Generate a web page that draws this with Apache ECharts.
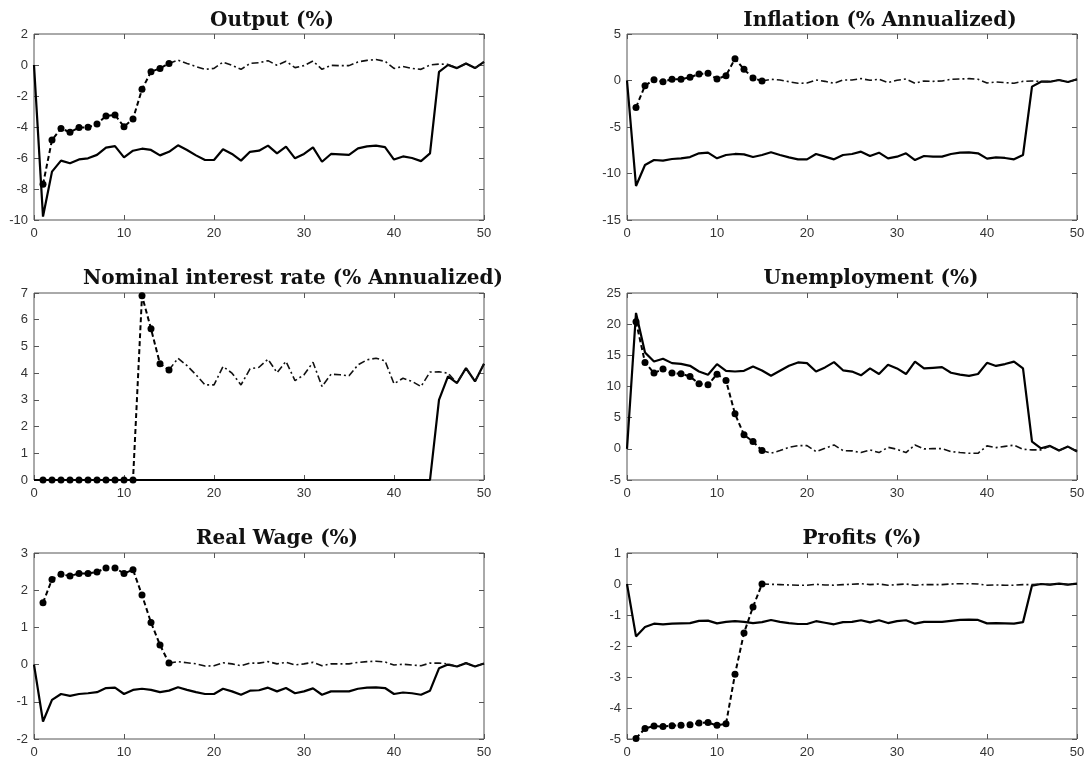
<!DOCTYPE html>
<html><head><meta charset="utf-8">
<script src="https://cdn.jsdelivr.net/npm/echarts@6/dist/echarts.min.js"></script>
<style>html,body{margin:0;padding:0;background:#fff}#c{width:1088px;height:762px}</style>
</head><body><div id="c"></div>
<script>
// ---------- DATA ----------
const periods = [0,1,2,3,4,5,6,7,8,9,10,11,12,13,14,15,16,17,18,19,20,21,22,23,24,25,26,27,28,29,30,31,32,33,34,35,36,37,38,39,40,41,42,43,44,45,46,47,48,49,50];
const xTicks = [0,10,20,30,40,50];
const titles = ['Output (%)','Inflation (% Annualized)','Nominal interest rate (% Annualized)','Unemployment (%)','Real Wage (%)','Profits (%)'];

// solid line: x = 0..50 ; alternative (dashed, markers on 1..15): x = 1..50
const outputSolid = [0,-9.78,-6.88,-6.17,-6.34,-6.09,-6.02,-5.8,-5.33,-5.23,-5.96,-5.53,-5.4,-5.48,-5.83,-5.6,-5.18,-5.48,-5.83,-6.13,-6.13,-5.44,-5.74,-6.17,-5.6,-5.53,-5.2,-5.7,-5.27,-6.02,-5.74,-5.31,-6.24,-5.74,-5.76,-5.8,-5.38,-5.25,-5.2,-5.3,-6.1,-5.9,-6.0,-6.2,-5.7,-0.45,0.0,-0.2,0.1,-0.2,0.2];
const outputAlt = [-7.7,-4.84,-4.09,-4.34,-4.04,-4.02,-3.8,-3.29,-3.23,-3.98,-3.48,-1.57,-0.43,-0.22,0.1,0.32,0.1,-0.1,-0.28,-0.22,0.19,-0.02,-0.28,0.1,0.15,0.28,-0.02,0.24,-0.17,-0.04,0.26,-0.28,-0.02,-0.04,-0.04,0.2,0.3,0.35,0.24,-0.22,-0.1,-0.22,-0.28,0.0,0.06,0.04,-0.2,0.1,-0.2,0.2];

const inflationSolid = [0,-11.34,-9.09,-8.55,-8.62,-8.44,-8.37,-8.23,-7.83,-7.76,-8.37,-8.01,-7.9,-7.94,-8.23,-8.01,-7.72,-8.01,-8.26,-8.48,-8.48,-7.9,-8.19,-8.48,-8.01,-7.9,-7.65,-8.12,-7.76,-8.37,-8.19,-7.83,-8.55,-8.12,-8.19,-8.19,-7.9,-7.76,-7.72,-7.83,-8.4,-8.26,-8.33,-8.48,-8.01,-0.66,-0.13,-0.13,0.05,-0.16,0.13];
const inflationAlt = [-2.89,-0.56,0.09,-0.13,0.13,0.13,0.34,0.7,0.77,0.16,0.52,2.35,1.2,0.27,-0.05,0.13,0.05,-0.13,-0.3,-0.27,0.05,-0.09,-0.3,0.05,0.05,0.2,0.02,0.13,-0.23,0.02,0.16,-0.3,-0.05,-0.09,-0.05,0.13,0.16,0.2,0.13,-0.27,-0.16,-0.23,-0.3,-0.09,-0.05,-0.1,-0.13,0.05,-0.16,0.13];

const rateSolid = [0,0,0,0,0,0,0,0,0,0,0,0,0,0,0,0,0,0,0,0,0,0,0,0,0,0,0,0,0,0,0,0,0,0,0,0,0,0,0,0,0,0,0,0,0,3.0,3.88,3.63,4.19,3.69,4.35];
const rateAlt = [0,0,0,0,0,0,0,0,0,0,0,6.9,5.66,4.35,4.12,4.56,4.28,3.94,3.56,3.56,4.25,4.0,3.56,4.16,4.22,4.52,4.02,4.44,3.72,3.94,4.41,3.5,3.96,3.94,3.9,4.31,4.5,4.56,4.46,3.6,3.81,3.69,3.5,4.04,4.05,4.0,3.63,4.19,3.69,4.35];

const unempSolid = [0,21.8,15.47,14.0,14.45,13.75,13.64,13.32,12.41,11.88,13.59,12.52,12.41,12.52,13.2,12.57,11.72,12.52,13.32,13.86,13.75,12.41,13.06,13.91,12.6,12.4,11.8,12.9,12.0,13.5,12.9,12.0,14.0,12.9,13.0,13.1,12.2,11.9,11.7,12.0,13.8,13.3,13.6,14.0,12.9,1.16,0.09,0.47,-0.28,0.36,-0.44];
const unempAlt = [20.4,13.86,12.15,12.79,12.15,12.04,11.6,10.43,10.27,11.98,10.97,5.61,2.24,1.16,-0.28,-0.71,-0.28,0.25,0.52,0.52,-0.44,0.09,0.63,-0.28,-0.33,-0.6,-0.17,-0.6,0.25,-0.07,-0.6,0.63,-0.01,0.04,0.04,-0.44,-0.6,-0.71,-0.71,0.47,0.2,0.4,0.58,-0.07,-0.17,-0.17,0.47,-0.28,0.36,-0.44];

const wageSolid = [0,-1.53,-0.95,-0.79,-0.84,-0.79,-0.77,-0.74,-0.63,-0.62,-0.79,-0.68,-0.65,-0.68,-0.74,-0.7,-0.61,-0.68,-0.74,-0.79,-0.79,-0.65,-0.72,-0.81,-0.7,-0.69,-0.62,-0.72,-0.63,-0.77,-0.72,-0.64,-0.81,-0.72,-0.72,-0.72,-0.65,-0.62,-0.61,-0.63,-0.79,-0.75,-0.77,-0.81,-0.7,-0.1,0.0,-0.05,0.04,-0.05,0.03];
const wageAlt = [1.66,2.29,2.43,2.38,2.45,2.45,2.49,2.6,2.6,2.45,2.55,1.87,1.13,0.53,0.04,0.08,0.05,0.02,-0.04,-0.03,0.05,0.02,-0.03,0.04,0.04,0.08,0.02,0.06,-0.01,0.02,0.06,-0.03,0.02,0.02,0.02,0.06,0.08,0.09,0.07,-0.01,0.01,-0.01,-0.03,0.04,0.04,0.02,-0.05,0.04,-0.05,0.03];

const profitSolid = [0,-1.69,-1.39,-1.28,-1.3,-1.28,-1.27,-1.26,-1.19,-1.18,-1.27,-1.22,-1.2,-1.22,-1.26,-1.23,-1.16,-1.22,-1.26,-1.29,-1.29,-1.2,-1.25,-1.3,-1.23,-1.22,-1.17,-1.24,-1.17,-1.26,-1.2,-1.17,-1.28,-1.22,-1.22,-1.22,-1.19,-1.16,-1.15,-1.16,-1.27,-1.26,-1.27,-1.28,-1.23,-0.05,0.0,-0.02,0.01,-0.02,0.01];
const profitAlt = [-4.98,-4.66,-4.58,-4.6,-4.57,-4.56,-4.54,-4.48,-4.47,-4.56,-4.51,-2.91,-1.58,-0.74,0.0,-0.01,-0.02,-0.03,-0.04,-0.04,-0.01,-0.03,-0.04,-0.02,-0.01,0.01,-0.02,0.0,-0.04,-0.02,0.0,-0.04,-0.02,-0.02,-0.02,0.0,0.01,0.01,0.0,-0.04,-0.03,-0.04,-0.04,-0.02,-0.02,0.0,-0.02,0.01,-0.02,0.01];

const yRanges = [[-10,2,2],[-15,5,5],[0,7,1],[-5,25,5],[-2,3,1],[-5,1,1]];
const markerEnd = 15; // markers drawn on periods 1..15

// ---------- LAYOUT ----------
const solids = [outputSolid, inflationSolid, rateSolid, unempSolid, wageSolid, profitSolid];
const alts = [outputAlt, inflationAlt, rateAlt, unempAlt, wageAlt, profitAlt];
const gridPos = [
  {left:34, top:34, w:450, h:186}, {left:627, top:34, w:450, h:186},
  {left:34, top:293, w:450, h:187}, {left:627, top:293, w:450, h:187},
  {left:34, top:553, w:450, h:186}, {left:627, top:553, w:450, h:186}
];
const titleCenters = [272, 880, 293, 871, 277, 862];
const titleTops = [10, 10, 268, 268, 528, 528];

const frame = '#555';
const grids = [], xAxes = [], yAxes = [], series = [], titleArr = [];
for (let p = 0; p < 6; p++) {
  const g = gridPos[p];
  grids.push({left:g.left, top:g.top, width:g.w, height:g.h, show:true, borderColor:frame, borderWidth:1, backgroundColor:'#fff', containLabel:false});
  const tickStyle = {show:true, inside:true, length:5, lineStyle:{color:frame, width:1}};
  const xBase = {type:'value', gridIndex:p, min:xTicks[0], max:xTicks[xTicks.length-1], interval:10,
    axisLine:{show:false, onZero:false}, splitLine:{show:false}, axisTick:tickStyle};
  xAxes.push(Object.assign({}, xBase, {position:'bottom',
    axisLabel:{show:true, margin:7, color:'#333', fontFamily:'Liberation Sans, Arial, sans-serif', fontSize:13}}));
  xAxes.push(Object.assign({}, xBase, {position:'top', axisLabel:{show:false}}));
  const [ymin, ymax, yint] = yRanges[p];
  const yBase = {type:'value', gridIndex:p, min:ymin, max:ymax, interval:yint,
    axisLine:{show:false, onZero:false}, splitLine:{show:false}, axisTick:tickStyle};
  yAxes.push(Object.assign({}, yBase, {position:'left',
    axisLabel:{show:true, margin:6, color:'#333', fontFamily:'Liberation Sans, Arial, sans-serif', fontSize:13}}));
  yAxes.push(Object.assign({}, yBase, {position:'right', axisLabel:{show:false}}));

  const xi = p*2, yi = p*2;
  const solid = solids[p], alt = alts[p];
  series.push({type:'line', xAxisIndex:xi, yAxisIndex:yi, showSymbol:false, symbol:'none', silent:true, z:3,
    data: periods.map((x,i)=>[x, solid[i]]),
    lineStyle:{color:'#000', width:2.2, type:'solid'}, animation:false});
  const altPts = alt.map((v,i)=>[periods[i+1], v]);
  series.push({type:'line', xAxisIndex:xi, yAxisIndex:yi, symbol:'circle', symbolSize:7, showSymbol:true, silent:true, z:4,
    data: altPts.filter(d=>d[0] <= markerEnd),
    itemStyle:{color:'#000'},
    lineStyle:{color:'#000', width:2, type:[5,3]}, animation:false});
  series.push({type:'line', xAxisIndex:xi, yAxisIndex:yi, symbol:'none', showSymbol:false, silent:true, z:4,
    data: altPts.filter(d=>d[0] >= markerEnd),
    lineStyle:{color:'#111', width:1.6, type:[7,3,2,3]}, animation:false});

  titleArr.push({text:titles[p], left:titleCenters[p], top:titleTops[p]+1, textAlign:'center', padding:0,
    textStyle:{fontFamily:'DejaVu Serif', fontWeight:'bold', fontSize:20, color:'#111'}});
}

const chart = echarts.init(document.getElementById('c'), null, {renderer:'canvas'});
chart.setOption({backgroundColor:'#fff', animation:false, title:titleArr, grid:grids, xAxis:xAxes, yAxis:yAxes, series:series});
</script>
</body></html>
